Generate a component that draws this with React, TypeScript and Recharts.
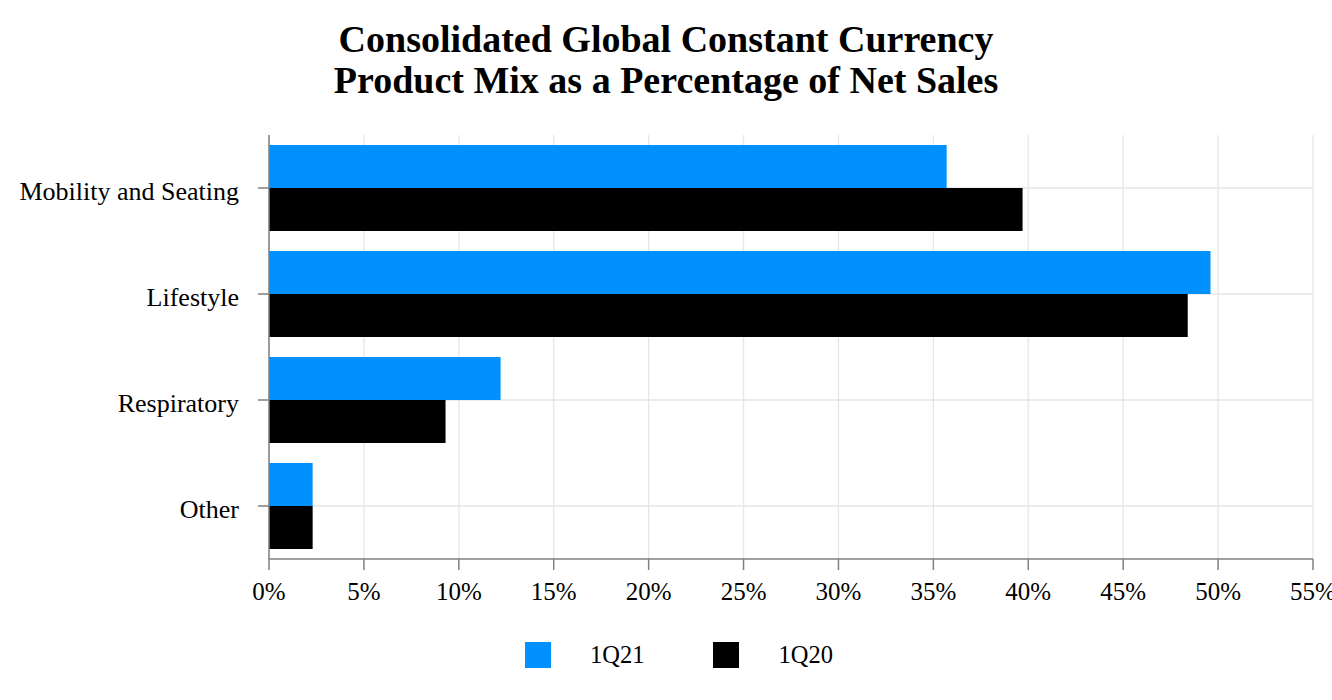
import React from 'react';
import { BarChart, Bar, XAxis, YAxis, CartesianGrid, Legend } from 'recharts';

const categories = ['Mobility and Seating', 'Lifestyle', 'Respiratory', 'Other'];
const series1Q21 = [35.7, 49.6, 12.2, 2.3];
const series1Q20 = [39.7, 48.4, 9.3, 2.3];
const seriesNames = ['1Q21', '1Q20'];
const xTicks = [0, 5, 10, 15, 20, 25, 30, 35, 40, 45, 50, 55];
const titleLines = ['Consolidated Global Constant Currency', 'Product Mix as a Percentage of Net Sales'];

const BLUE = '#0091FF';
const BLACK = '#000000';
const FONT = '"Liberation Serif", "Times New Roman", serif';

const data = categories.map((c, i) => ({ name: c, q21: series1Q21[i], q20: series1Q20[i] }));

const LegendContent = (props: any) => {
  const payload = [...(props.payload || [])].sort(
    (a: any, b: any) => seriesNames.indexOf(a.value) - seriesNames.indexOf(b.value)
  );
  return (
    <div style={{ display: 'flex', alignItems: 'center', justifyContent: 'flex-start', paddingLeft: 525, fontFamily: FONT, fontSize: 24.5, color: '#000' }}>
      {payload.map((p: any, i: number) => (
        <div key={i} style={{ display: 'flex', alignItems: 'center', marginRight: i === 0 ? 69 : 0 }}>
          <div style={{ width: 26, height: 26, background: p.color }} />
          <span style={{ marginLeft: 39, lineHeight: '26px' }}>{p.value}</span>
        </div>
      ))}
    </div>
  );
};

export default function App() {
  return (
    <div style={{ position: 'absolute', left: 0, top: 0, width: 1332, height: 700, background: '#fff' }}>
      <div style={{ position: 'absolute', left: 0, top: 19, width: 1332, textAlign: 'center', fontFamily: FONT, fontWeight: 'bold', fontSize: 38, lineHeight: '41px', color: '#000' }}>
        {titleLines.map((l, i) => (<div key={i}>{l}</div>))}
      </div>
      <BarChart
        width={1332}
        height={700}
        data={data}
        layout="vertical"
        margin={{ top: 135, right: 19, left: 0, bottom: 91 }}
        barCategoryGap="9.4%"
        barGap={0}
      >
        <CartesianGrid stroke="#e6e6e6" strokeWidth={1.3} syncWithTicks />
        <XAxis
          type="number"
          domain={[0, 55]}
          ticks={xTicks}
          tickFormatter={(v: number) => `${v}%`}
          height={50}
          tickSize={11}
          tickMargin={12}
          interval={0}
          axisLine={{ stroke: '#808080', strokeWidth: 1.5 }}
          tickLine={{ stroke: '#808080', strokeWidth: 1.5 }}
          tick={{ fill: '#000', fontFamily: FONT, fontSize: 25 }}
        />
        <YAxis
          type="category"
          dataKey="name"
          width={269}
          tickSize={11}
          tickMargin={19}
          axisLine={{ stroke: '#808080', strokeWidth: 1.5 }}
          tickLine={{ stroke: '#808080', strokeWidth: 1.5 }}
          tick={{ fill: '#000', fontFamily: FONT, fontSize: 26, dy: 3 }}
        />
        <Legend
          verticalAlign="middle"
          align="center"
          content={LegendContent}
          wrapperStyle={{ top: 642, left: 0, width: 1332, height: 26 }}
        />
        <Bar dataKey="q21" name="1Q21" fill={BLUE} isAnimationActive={false} />
        <Bar dataKey="q20" name="1Q20" fill={BLACK} isAnimationActive={false} />
      </BarChart>
    </div>
  );
}
